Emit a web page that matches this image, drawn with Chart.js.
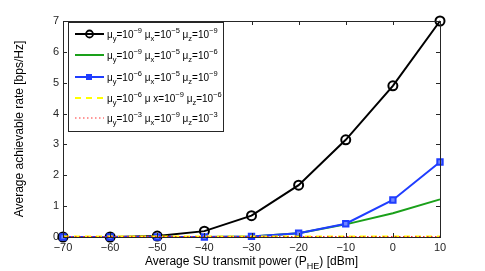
<!DOCTYPE html>
<html><head><meta charset="utf-8">
<script src="https://cdn.jsdelivr.net/npm/chart.js@4/dist/chart.umd.min.js"></script>
<style>html,body{margin:0;padding:0;background:#fff}#wrap{width:485px;height:271px}</style>
</head><body><div id="wrap"><canvas id="c" width="485" height="271"></canvas></div>
<script>
const powers = [-70, -60, -50, -40, -30, -20, -10, 0, 10];
const s1 = [0, 0, 0.03, 0.19, 0.69, 1.68, 3.15, 4.9, 7.0];
const s2 = [0, 0, 0, 0, 0.02, 0.12, 0.41, 0.77, 1.22];
const s3 = [0, 0, 0, 0, 0.02, 0.12, 0.43, 1.2, 2.43];
const s4 = [0.02, 0.02, 0.02, 0.02, 0.02, 0.02, 0.02, 0.02, 0.02];
const s5 = [0.01, 0.01, 0.01, 0.01, 0.01, 0.01, 0.01, 0.01, 0.01];
const xTicks = [-70, -60, -50, -40, -30, -20, -10, 0, 10];
const yTicks = [0, 1, 2, 3, 4, 5, 6, 7];
// legend label parts: [text, mode] mode: n normal, b sub, p sup
const legendLabels = [
  [["μ","n"],["y","b"],["=10","n"],["−9","p"],[" μ","n"],["x","b"],["=10","n"],["−5","p"],[" μ","n"],["z","b"],["=10","n"],["−9","p"]],
  [["μ","n"],["y","b"],["=10","n"],["−9","p"],[" μ","n"],["x","b"],["=10","n"],["−5","p"],[" μ","n"],["z","b"],["=10","n"],["−6","p"]],
  [["μ","n"],["y","b"],["=10","n"],["−6","p"],[" μ","n"],["x","b"],["=10","n"],["−5","p"],[" μ","n"],["z","b"],["=10","n"],["−9","p"]],
  [["μ","n"],["y","b"],["=10","n"],["−6","p"],[" μ x=10","n"],["−9","p"],[" μ","n"],["z","b"],["=10","n"],["−6","p"]],
  [["μ","n"],["y","b"],["=10","n"],["−3","p"],[" μ","n"],["x","b"],["=10","n"],["−9","p"],[" μ","n"],["z","b"],["=10","n"],["−3","p"]]
];
const xTitle = [["Average SU transmit power (P","n"],["HE","b"],[") [dBm]","n"]];
const yTitle = "Average achievable rate [bps/Hz]";

const FONT = "Liberation Sans, Arial, sans-serif";
const styles = [
  {color:"#000000", width:2, dash:[], pt:"circle", r:4.5},
  {color:"#1aa01a", width:2, dash:[], pt:false, r:0},
  {color:"#1f3dff", width:2, dash:[], pt:"rect", r:3.8},
  {color:"#ffff00", width:2, dash:[6,5], pt:false, r:0},
  {color:"#ff3030", width:1.2, dash:[1.5,2.5], pt:false, r:0}
];
const series = [s1, s2, s3, s4, s5];

function drawRich(ctx, parts, x, y, size){
  let cx = x;
  for (const [t, m] of parts){
    const fs = m === "n" ? size : size*0.75;
    ctx.font = fs + "px " + FONT;
    const dy = m === "b" ? size*0.35 : (m === "p" ? -size*0.4 : 0);
    ctx.fillText(t, cx, y + dy);
    cx += ctx.measureText(t).width;
  }
  return cx - x;
}

const deco = {
  id: "deco",
  afterDraw(chart){
    const ctx = chart.ctx, a = chart.chartArea;
    const xs = chart.scales.x, ys = chart.scales.y;
    ctx.save();
    ctx.strokeStyle = "#262626"; ctx.lineWidth = 1;
    ctx.strokeRect(Math.round(a.left)+0.5, Math.round(a.top)+0.5, Math.round(a.right-a.left), Math.round(a.bottom-a.top));
    ctx.beginPath();
    for (const v of xTicks){
      const px = Math.round(xs.getPixelForValue(v))+0.5;
      ctx.moveTo(px, a.bottom); ctx.lineTo(px, a.bottom-4);
      ctx.moveTo(px, a.top); ctx.lineTo(px, a.top+4);
    }
    for (const v of yTicks){
      const py = Math.round(ys.getPixelForValue(v))+0.5;
      ctx.moveTo(a.left, py); ctx.lineTo(a.left+4, py);
      ctx.moveTo(a.right, py); ctx.lineTo(a.right-4, py);
    }
    ctx.stroke();
    ctx.fillStyle = "#000"; ctx.textBaseline = "middle"; ctx.textAlign = "left";
    let w = 0;
    for (const [t,m] of xTitle){ ctx.font = (m==="n"?12:9)+"px "+FONT; w += ctx.measureText(t).width; }
    drawRich(ctx, xTitle, (a.left+a.right)/2 - w/2, 262, 12);
    ctx.save();
    ctx.translate(20, (a.top+a.bottom)/2);
    ctx.rotate(-Math.PI/2);
    ctx.textAlign = "center"; ctx.font = "12px " + FONT;
    ctx.fillText(yTitle, 0, 0);
    ctx.restore();
    // legend
    const lx = 68, ly = 22, lw = 155, lh = 109;
    ctx.fillStyle = "#fff"; ctx.fillRect(lx, ly, lw, lh);
    ctx.strokeStyle = "#262626"; ctx.lineWidth = 1;
    ctx.strokeRect(lx+0.5, ly+0.5, lw, lh);
    const rows = [34, 55, 77, 98, 118];
    for (let i=0;i<5;i++){
      const st = styles[i], y = rows[i];
      ctx.strokeStyle = st.color; ctx.lineWidth = st.width; ctx.setLineDash(st.dash);
      ctx.beginPath(); ctx.moveTo(75, y); ctx.lineTo(104, y); ctx.stroke();
      ctx.setLineDash([]);
      if (st.pt === "circle"){
        ctx.beginPath(); ctx.arc(89.5, y, 3.5, 0, Math.PI*2); ctx.lineWidth=1.8; ctx.stroke();
      } else if (st.pt === "rect"){
        ctx.fillStyle = st.color; ctx.fillRect(86, y-3, 6, 6);
      }
      ctx.fillStyle = "#000"; ctx.textAlign = "left"; ctx.textBaseline = "middle";
      drawRich(ctx, legendLabels[i], 107, y+1, 10);
    }
    ctx.restore();
  }
};

const datasets = series.map((d, i) => ({
  data: d.map((v,j)=>({x: powers[j], y: v})),
  borderColor: styles[i].color,
  backgroundColor: i === 2 ? styles[i].color : "rgba(0,0,0,0)",
  borderWidth: styles[i].width,
  borderDash: styles[i].dash,
  pointStyle: styles[i].pt,
  pointRadius: styles[i].r,
  pointBorderWidth: 2,
  pointBorderColor: styles[i].color,
  pointBackgroundColor: i === 2 ? "#6f86ff" : "rgba(0,0,0,0)",
  tension: 0,
  order: 5 - i,
  clip: 6
}));

new Chart(document.getElementById("c"), {
  type: "line",
  data: { datasets },
  options: {
    responsive: false, animation: false,
    layout: { padding: { top: 21, right: 45, left: 0, bottom: 0 } },
    plugins: { legend: { display: false }, tooltip: { enabled: false } },
    scales: {
      x: {
        type: "linear", min: -70, max: 10,
        afterBuildTicks(s){ s.ticks = xTicks.map(v => ({value: v})); },
        afterFit(s){ s.height = 34; },
        grid: { display: false, drawTicks: false },
        border: { display: false },
        ticks: { color: "#262626", font: { family: FONT, size: 11 }, padding: 4,
          maxRotation: 0, callback: v => String(v).replace("-", "−") }
      },
      y: {
        min: 0, max: 7,
        afterBuildTicks(s){ s.ticks = yTicks.map(v => ({value: v})); },
        afterFit(s){ s.width = 63; },
        grid: { display: false, drawTicks: false },
        border: { display: false },
        ticks: { color: "#262626", font: { family: FONT, size: 11 }, padding: 4 }
      }
    }
  },
  plugins: [deco]
});
</script>
</body></html>
